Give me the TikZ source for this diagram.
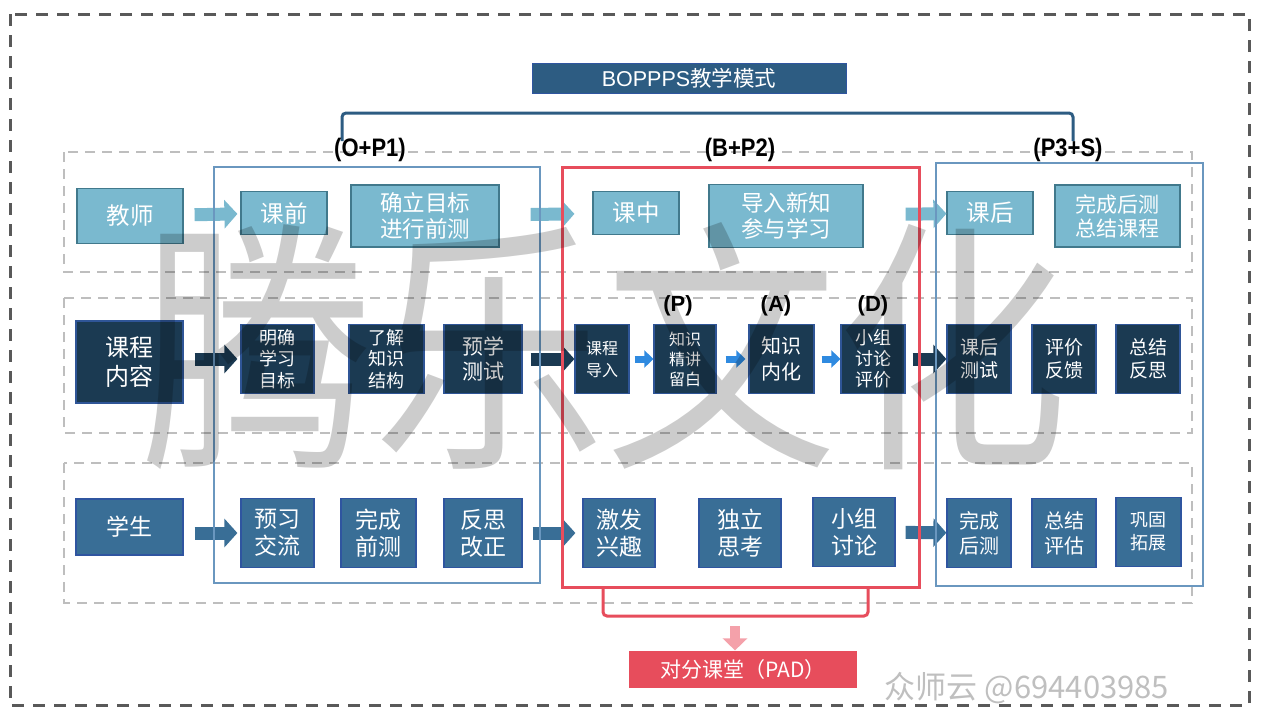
\documentclass[tikz,border=0pt]{standalone}
\usepackage{fontspec}
\setmainfont{Noto Sans CJK SC}
\newfontfamily\latfont{Liberation Sans}
\usetikzlibrary{arrows.meta}
\definecolor{tchfill}{HTML}{7AB9CF}
\definecolor{tchline}{HTML}{41798C}
\definecolor{crsfill}{HTML}{1B3A52}
\definecolor{crsline}{HTML}{2F5597}
\definecolor{stufill}{HTML}{396E96}
\definecolor{stuline}{HTML}{2F55A0}
\definecolor{ttlfill}{HTML}{2D5C82}
\definecolor{padred}{HTML}{E74D5C}
\definecolor{padpink}{HTML}{F4A1AA}
\definecolor{frmblue}{HTML}{6A97BF}
\definecolor{rowgray}{HTML}{BEBEBE}
\definecolor{outgray}{HTML}{595959}
\definecolor{smblue}{HTML}{2F8AE0}
\begin{document}
\begin{tikzpicture}[x=1pt,y=-1pt,
  wh/.style 2 args={minimum width=#1pt, minimum height=#2pt},
  fs/.style 2 args={font=\fontsize{#1}{#2}\selectfont},
  box/.style={rectangle, text=white, align=center, inner sep=0pt, line width=1.2pt},
  tch/.style={box, fill=tchfill, draw=tchline, fs={23.5}{26}},
  crs/.style={box, fill=crsfill, draw=crsline},
  stu/.style={box, fill=stufill, draw=stuline, fs={23}{27}},
  barrow/.style={line width=13pt, -{Triangle[length=13pt,width=28pt]}},
  sarrow/.style={line width=7pt, smblue, -{Triangle[length=9pt,width=17pt]}},
  lbl/.style={font=\latfont\bfseries\fontsize{22}{24}\selectfont},
  rowbox/.style={draw=rowgray, line width=2.5pt, dash pattern=on 10pt off 7pt},
  frame/.style={draw=frmblue, line width=1.5pt}]
\useasboundingbox (0,0) rectangle (1267,713);
\draw[outgray, line width=3pt, dash pattern=on 12pt off 9pt] (10,14) rectangle (1249,705);
\draw[rowbox] (64,152) rectangle (1192,272);
\draw[rowbox] (64,298) rectangle (1192,433);
\draw[rowbox] (64,463) rectangle (1192,603);

\node[box, fill=ttlfill, draw=stuline, line width=0.8pt, wh={314}{30}, fs={21.5}{23}] (ttl) at (689,78) {{\latfont BOPPPS}教学模式};
\draw[ttlfill, line width=3pt, rounded corners=4pt] (342,141) -- (342,113) -- (1073,113) -- (1073,141);
\node[lbl] (lbl0) at (370,150) {\scalebox{1}[1.15]{(O+P1)}};
\node[lbl] (lbl1) at (740,150) {\scalebox{1}[1.15]{(B+P2)}};
\node[lbl] (lbl2) at (1068,150) {\scalebox{1}[1.15]{(P3+S)}};
\node[lbl] (lblp) at (678,306) {(P)};
\node[lbl] (lbla) at (776,306) {(A)};
\node[lbl] (lbld) at (873,306) {(D)};

\node[tch, wh={106}{55}] (tch0) at (130,216) {教师};
\node[tch, wh={86}{43}] (tch1) at (284,213) {课前};
\node[tch, wh={148}{62}, fs={22.5}{26}] (tch2) at (425,216) {确立目标\\进行前测};
\node[tch, wh={86}{43}] (tch3) at (636,213) {课中};
\node[tch, wh={154}{63}, fs={22.5}{26}] (tch4) at (786,216) {导入新知\\参与学习};
\node[tch, wh={86}{43}] (tch5) at (990,213) {课后};
\node[tch, wh={125}{62}, fs={21}{24}] (tch6) at (1117.5,216) {完成后测\\总结课程};
\draw[barrow, tchfill, shorten <=11pt, shorten >=3pt] (tch0) -- (tch1);
\draw[barrow, tchfill, shorten <=31pt, shorten >=18pt] (tch2) -- (tch3);
\draw[barrow, tchfill, shorten <=42pt] (tch4) -- (tch5);

\node[crs, wh={107}{82}, fs={24}{29}] (crs0) at (129.5,362) {课程\\内容};
\node[crs, wh={73}{69}, fs={18}{21.5}] (crs1) at (277.5,359) {明确\\学习\\目标};
\node[crs, wh={75}{69}, fs={18}{21.5}] (crs2) at (386.5,359) {了解\\知识\\结构};
\node[crs, wh={78}{69}, fs={21}{25}] (crs3) at (483,359) {预学\\测试};
\node[crs, wh={54}{69}, fs={16}{22}] (crs4) at (602,359) {课程\\导入};
\node[crs, wh={62}{69}, fs={16}{20}] (crs5) at (685,359) {知识\\精讲\\留白};
\node[crs, wh={65}{69}, fs={20}{26}] (crs6) at (781.5,359) {知识\\内化};
\node[crs, wh={64}{69}, fs={18}{21}] (crs7) at (873,359) {小组\\讨论\\评价};
\node[crs, wh={64}{69}, fs={19}{23}] (crs8) at (979,359) {课后\\测试};
\node[crs, wh={64}{69}, fs={19}{23}] (crs9) at (1064,359) {评价\\反馈};
\node[crs, wh={64}{69}, fs={19}{23}] (crs10) at (1148,359) {总结\\反思};
\draw[barrow, crsfill, shorten <=11pt, shorten >=3pt] (crs0.east |- crs1) -- (crs1);
\draw[barrow, crsfill, shorten <=8pt] (crs3) -- (crs4);
\draw[sarrow, shorten <=5pt] (crs4) -- (crs5);
\draw[sarrow, shorten <=9pt, shorten >=3pt] (crs5) -- (crs6);
\draw[sarrow, shorten <=7pt] (crs6) -- (crs7);
\draw[barrow, crsfill, shorten <=7pt] (crs7) -- (crs8);

\node[stu, wh={107}{56}] (stu0) at (129.5,527) {学生};
\node[stu, wh={73}{69}] (stu1) at (277.5,533) {预习\\交流};
\node[stu, wh={75}{69}] (stu2) at (378.5,533) {完成\\前测};
\node[stu, wh={78}{69}] (stu3) at (483,533) {反思\\改正};
\node[stu, wh={72}{69}] (stu4) at (619,533) {激发\\兴趣};
\node[stu, wh={82}{69}] (stu5) at (740,533) {独立\\思考};
\node[stu, wh={82}{69}] (stu6) at (854,532) {小组\\讨论};
\node[stu, wh={64}{69}, fs={20}{25}] (stu7) at (979,533) {完成\\后测};
\node[stu, wh={64}{69}, fs={20}{25}] (stu8) at (1064,533) {总结\\评估};
\node[stu, wh={65}{69}, fs={18}{23}] (stu9) at (1148.5,532) {巩固\\拓展};
\draw[barrow, stufill, shorten <=11pt, shorten >=3pt] (stu0.east |- stu1) -- (stu1);
\draw[barrow, stufill, shorten <=10pt, shorten >=7pt] (stu3) -- (stu4);
\draw[barrow, stufill, shorten <=10pt] (stu6) -- (stu7);

\draw[frame] (214,167) rectangle (540,583);
\draw[padred, line width=3pt] (562,167) rectangle (919,587);
\draw[frame] (936,163) rectangle (1203,586);
\draw[padred, line width=3pt, rounded corners=4pt] (603,587) -- (603,616) -- (868,616) -- (868,587);

\node[box, fill=padred, wh={228}{37}, fs={21}{24}] (pad) at (743,669.5) {对分课堂（PAD）};
\coordinate (padtop) at (735,626);
\draw[padpink, line width=10pt, -{Triangle[length=12pt,width=24pt]}] (padtop) -- (padtop |- pad.north);

\node[text=black, text opacity=0.2, fs={232}{240}] (wm0) at (605,346) {\scalebox{1}[1.15]{腾乐文化}};
\node[text=black!25, fs={31}{34}] (wm1) at (1027,688) {众师云 @694403985};
\end{tikzpicture}
\end{document}
